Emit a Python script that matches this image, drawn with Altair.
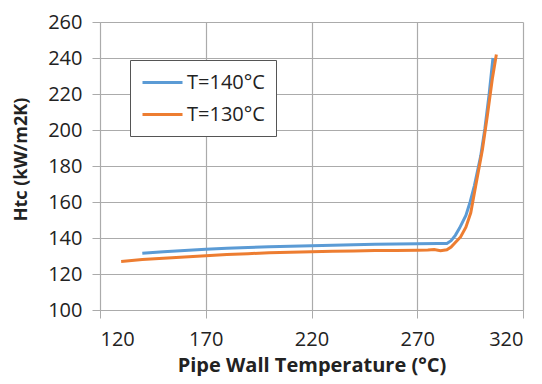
import altair as alt
import pandas as pd

blue_x = [140, 150, 160, 170, 180, 190, 200, 210, 220, 230, 240, 250, 260, 270, 280, 284, 286, 288, 290, 293, 295, 297, 300, 302, 304, 305.8]
blue_y = [131.5, 132.3, 133.1, 133.8, 134.3, 134.7, 135.1, 135.4, 135.7, 136.0, 136.2, 136.5, 136.7, 136.8, 136.9, 137.0, 138.5, 141.5, 145.5, 152.5, 160, 169, 185.5, 201, 220, 240]

orange_x = [130, 140, 150, 160, 170, 180, 190, 200, 210, 220, 230, 240, 250, 260, 270, 275, 278, 281, 284, 286, 288, 290.5, 293, 295.3, 297.6, 300.8, 303.2, 305.5, 307.4]
orange_y = [127, 128, 128.8, 129.5, 130.2, 130.8, 131.3, 131.8, 132.1, 132.4, 132.6, 132.8, 133, 133.1, 133.2, 133.3, 133.6, 132.9, 133.5, 135, 137.5, 140.6, 146, 154, 168.8, 189, 208.4, 228.5, 242]

series_names = ["T=140°C", "T=130°C"]
colors = ["#5B9BD5", "#ED7D31"]
x_ticks = [120, 170, 220, 270, 320]
y_ticks = [100, 120, 140, 160, 180, 200, 220, 240, 260]

rows = []
for i, (x, y) in enumerate(zip(blue_x, blue_y)):
    rows.append({"T": x, "Htc": y, "series": series_names[0], "order": i})
for i, (x, y) in enumerate(zip(orange_x, orange_y)):
    rows.append({"T": x, "Htc": y, "series": series_names[1], "order": i})
df = pd.DataFrame(rows)

FONT = "Open Sans"
LBL = 20

chart = alt.Chart(df).mark_line(strokeWidth=3).encode(
    x=alt.X("T:Q", scale=alt.Scale(domain=[120, 320], nice=False),
            axis=alt.Axis(values=x_ticks, title="Pipe Wall Temperature (°C)",
                          grid=True, gridColor="#ababab", gridWidth=1.2,
                          domainColor="#ababab", tickColor="#ababab", tickSize=8,
                          labelPadding=11, titlePadding=6,
                          labelFontSize=LBL, labelFont=FONT, labelColor="#222222",
                          titleFontSize=20, titleFont=FONT, titleFontWeight="bold",
                          titleColor="#222222")),
    y=alt.Y("Htc:Q", scale=alt.Scale(domain=[100, 260], nice=False),
            axis=alt.Axis(values=y_ticks, title="Htc (kW/m2K)",
                          grid=True, gridColor="#ababab", gridWidth=1.2,
                          domainColor="#ababab", tickColor="#ababab", tickSize=8,
                          labelPadding=10, titlePadding=17, titleY=137,
                          labelFontSize=LBL, labelFont=FONT, labelColor="#222222",
                          titleFontSize=18, titleFont=FONT, titleFontWeight="bold",
                          titleColor="#222222")),
    color=alt.Color("series:N",
                    scale=alt.Scale(domain=series_names, range=colors),
                    legend=alt.Legend(title=None, orient="none", legendX=30, legendY=38,
                                      symbolType="M-1,0H3", symbolSize=400,
                                      symbolStrokeWidth=3, labelFontSize=LBL,
                                      labelFont=FONT, labelColor="#222222",
                                      fillColor="white", strokeColor="#555555",
                                      padding=11, rowPadding=10, labelOffset=23)),
    order="order:Q",
).properties(
    width=423, height=288,
    autosize=alt.AutoSizeParams(type="none"),
    padding={"left": 92, "top": 14, "right": 10, "bottom": 66},
).configure_view(stroke=None)

chart.save("out.html", embed_options={"renderer": "svg", "actions": False})
